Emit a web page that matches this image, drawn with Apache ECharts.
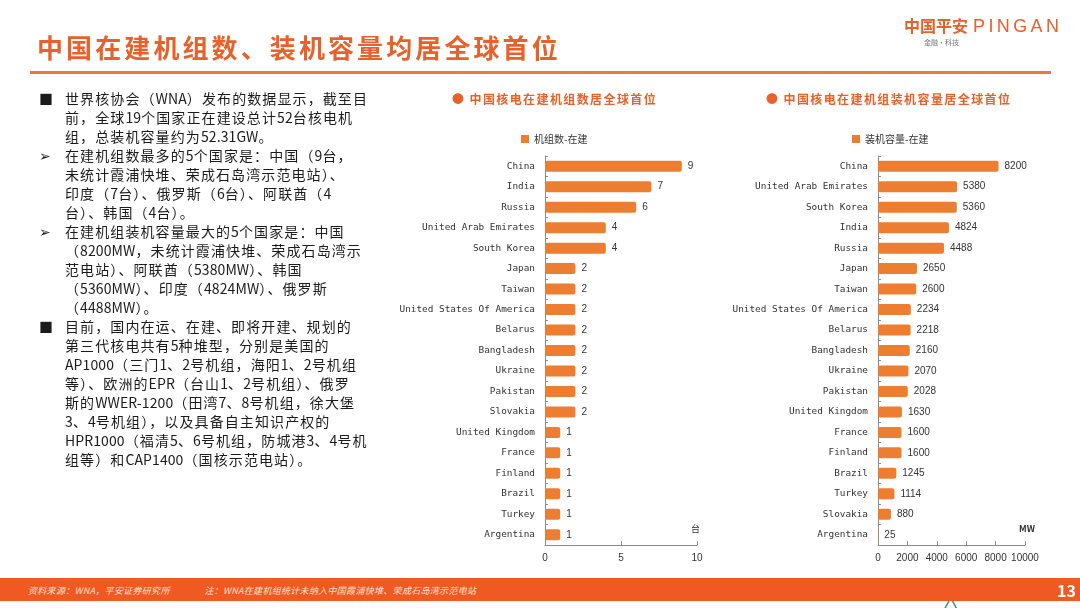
<!DOCTYPE html>
<html>
<head>
<meta charset="utf-8">
<script src="https://cdn.jsdelivr.net/npm/echarts@6/dist/echarts.min.js"></script>
<style>
  html,body{margin:0;padding:0;background:#fff;}
  #wrap{position:relative;width:1080px;height:608px;overflow:hidden;background:#fff;}
  #chart{position:absolute;left:0;top:0;width:1080px;height:608px;}
  .ov{position:absolute;white-space:nowrap;pointer-events:none;font-family:"Noto Sans CJK SC",sans-serif;}
  #title{left:37px;top:29px;font-size:26px;line-height:36px;color:#E8612A;letter-spacing:3.1px;font-weight:bold;}
  #rule{left:30px;top:71px;width:1021px;height:3px;background:#EB7A3A;}
  #logo1{left:904px;top:14px;font-size:16px;line-height:22px;color:#E8612A;font-weight:bold;}
  #logo1 .en{font-family:"Liberation Sans";font-weight:normal;font-size:18px;letter-spacing:3.4px;margin-left:5px;}
  #logo2{left:924px;top:37px;font-size:7px;line-height:10px;color:#777;}
  #left{left:0;top:89px;font-size:14px;line-height:19px;color:#1b1b1b;letter-spacing:1.1px;}
  #left .l{position:relative;height:19px;}
  #left .b{position:absolute;left:39px;top:0;letter-spacing:0;}
  #left .t{position:absolute;left:65px;top:0;}
  #left .lat{letter-spacing:0.1px;}
  .ct{font-size:12px;line-height:16px;color:#E8612A;font-weight:bold;letter-spacing:1.4px;}
  #ct1{left:452px;top:91px;}
  #ct2{left:766px;top:91px;}
  #footer{left:0;top:578px;width:1080px;height:23px;background:#F05A22;}
  #ftext{left:28px;top:585px;font-size:9px;line-height:12px;color:#FCE0D2;font-style:italic;letter-spacing:0.3px;}
  #fnum{left:1057px;top:580px;font-size:16px;line-height:20px;color:#fff;font-weight:bold;}
</style>
</head>
<body>
<div id="wrap">
  <div id="chart"></div>
  <div class="ov" id="title">中国在建机组数、装机容量均居全球首位</div>
  <div class="ov" id="rule"></div>
  <div class="ov" id="logo1">中国平安<span class="en">PINGAN</span></div>
  <div class="ov" id="logo2">金融·科技</div>
  <div class="ov" id="left"></div>
  <div class="ov ct" id="ct1">● 中国核电在建机组数居全球首位</div>
  <div class="ov ct" id="ct2">● 中国核电在建机组装机容量居全球首位</div>
  <div class="ov" id="footer"></div>
  <div class="ov" id="ftext">资料来源：WNA，平安证券研究所&nbsp;&nbsp;&nbsp;&nbsp;&nbsp;&nbsp;&nbsp;&nbsp;&nbsp;&nbsp;&nbsp;&nbsp;&nbsp;&nbsp;&nbsp;注：WNA在建机组统计未纳入中国霞浦快堆、荣成石岛湾示范电站</div>
  <div class="ov" id="fnum">13</div>
</div>
<script>
// ---- data ----
const countriesUnits = ['China','India','Russia','United Arab Emirates','South Korea','Japan','Taiwan','United States Of America','Belarus','Bangladesh','Ukraine','Pakistan','Slovakia','United Kingdom','France','Finland','Brazil','Turkey','Argentina'];
const unitsValues = [9,7,6,4,4,2,2,2,2,2,2,2,2,1,1,1,1,1,1];
const countriesCapacity = ['China','United Arab Emirates','South Korea','India','Russia','Japan','Taiwan','United States Of America','Belarus','Bangladesh','Ukraine','Pakistan','United Kingdom','France','Finland','Brazil','Turkey','Slovakia','Argentina'];
const capacityValues = [8200,5380,5360,4824,4488,2650,2600,2234,2218,2160,2070,2028,1630,1600,1600,1245,1114,880,25];
const unitsTicks = {min:0,max:10,interval:5};
const capacityTicks = {min:0,max:10000,interval:2000};
const seriesNames = ['机组数-在建','装机容量-在建'];
const axisUnits = ['台','MW'];

const leftLines = [
  ['■','世界核协会（WNA）发布的数据显示，截至目'],
  ['','前，全球19个国家正在建设总计52台核电机'],
  ['','组，总装机容量约为52.31GW。'],
  ['➢','在建机组数最多的5个国家是：中国（9台，'],
  ['','未统计霞浦快堆、荣成石岛湾示范电站）、'],
  ['','印度（7台）、俄罗斯（6台）、阿联酋（4'],
  ['','台）、韩国（4台）。'],
  ['➢','在建机组装机容量最大的5个国家是：中国'],
  ['','（8200MW，未统计霞浦快堆、荣成石岛湾示'],
  ['','范电站）、阿联酋（5380MW）、韩国'],
  ['','（5360MW）、印度（4824MW）、俄罗斯'],
  ['','（4488MW）。'],
  ['■','目前，国内在运、在建、即将开建、规划的'],
  ['','第三代核电共有5种堆型，分别是美国的'],
  ['','AP1000（三门1、2号机组，海阳1、2号机组'],
  ['','等）、欧洲的EPR（台山1、2号机组）、俄罗'],
  ['','斯的WWER-1200（田湾7、8号机组，徐大堡'],
  ['','3、4号机组），以及具备自主知识产权的'],
  ['','HPR1000（福清5、6号机组，防城港3、4号机'],
  ['','组等）和CAP1400（国核示范电站）。']
];
const leftEl = document.getElementById('left');
leftLines.forEach(function(p){
  const d = document.createElement('div'); d.className='l';
  const b = document.createElement('span'); b.className='b'; b.textContent=p[0];
  const t = document.createElement('span'); t.className='t';
  p[1].split(/([A-Za-z0-9.\-]+)/).forEach(function(seg){
    if(!seg) return;
    const s = document.createElement('span');
    if(/^[A-Za-z0-9.\-]+$/.test(seg)) s.className='lat';
    s.textContent = seg; t.appendChild(s);
  });
  d.appendChild(b); d.appendChild(t); leftEl.appendChild(d);
});

// ---- chart ----
const ORANGE = '#ED7D31';
const AX = '#8c8c8c';
const mono = 'DejaVu Sans Mono';
function catAxis(idx, data){
  return {type:'category', gridIndex:idx, data:data, inverse:true,
    axisLine:{lineStyle:{color:AX,width:1}},
    axisTick:{show:true,inside:true,length:3,lineStyle:{color:AX}},
    axisLabel:{color:'#333',fontFamily:mono,fontSize:9.4,margin:10}};
}
function valAxis(idx, t, unit){
  return {type:'value', gridIndex:idx, min:t.min, max:t.max, interval:t.interval,
    splitLine:{show:false},
    axisLine:{show:true,lineStyle:{color:AX,width:1}},
    axisTick:{show:true,inside:true,length:4,lineStyle:{color:AX}},
    axisLabel:{color:'#333',fontFamily:'Liberation Sans',fontSize:10,margin:8,
      formatter:function(v){return String(v);}},
    name:unit, nameLocation:'end', nameGap:-6,
    nameTextStyle:{color:'#333',fontFamily:'Noto Sans CJK SC',fontSize:9,fontWeight: unit==='MW'?'bold':'normal',
      verticalAlign:'bottom', padding:[0,0,12,0]}};
}
function barSeries(idx, name, vals){
  return {type:'bar', name:name, xAxisIndex:idx, yAxisIndex:idx, data:vals, barWidth:11,
    itemStyle:{color:ORANGE,borderRadius:2},
    label:{show:true,position:'right',distance:6,color:'#333',fontFamily:'Liberation Sans',fontSize:10}};
}
const chart = echarts.init(document.getElementById('chart'));
chart.setOption({
  animation:false,
  legend:[
    {data:[seriesNames[0]], left:516, top:129, icon:'rect', itemWidth:8, itemHeight:8,
     textStyle:{color:'#333',fontSize:10,fontFamily:'Noto Sans CJK SC'}},
    {data:[seriesNames[1]], left:847, top:129, icon:'rect', itemWidth:8, itemHeight:8,
     textStyle:{color:'#333',fontSize:10,fontFamily:'Noto Sans CJK SC'}}
  ],
  grid:[
    {left:545, top:156, width:152, height:389},
    {left:878, top:156, width:147, height:389}
  ],
  xAxis:[valAxis(0, unitsTicks, axisUnits[0]), valAxis(1, capacityTicks, axisUnits[1])],
  yAxis:[catAxis(0, countriesUnits), catAxis(1, countriesCapacity)],
  series:[barSeries(0, seriesNames[0], unitsValues), barSeries(1, seriesNames[1], capacityValues)],
  graphic:[
    {type:'polygon', left:944, top:597, shape:{points:[[6,0],[12,11],[0,11]]},
     style:{fill:'#fff',stroke:'#2e9e5b',lineWidth:1.5}, z:100}
  ]
});
</script>
</body>
</html>
